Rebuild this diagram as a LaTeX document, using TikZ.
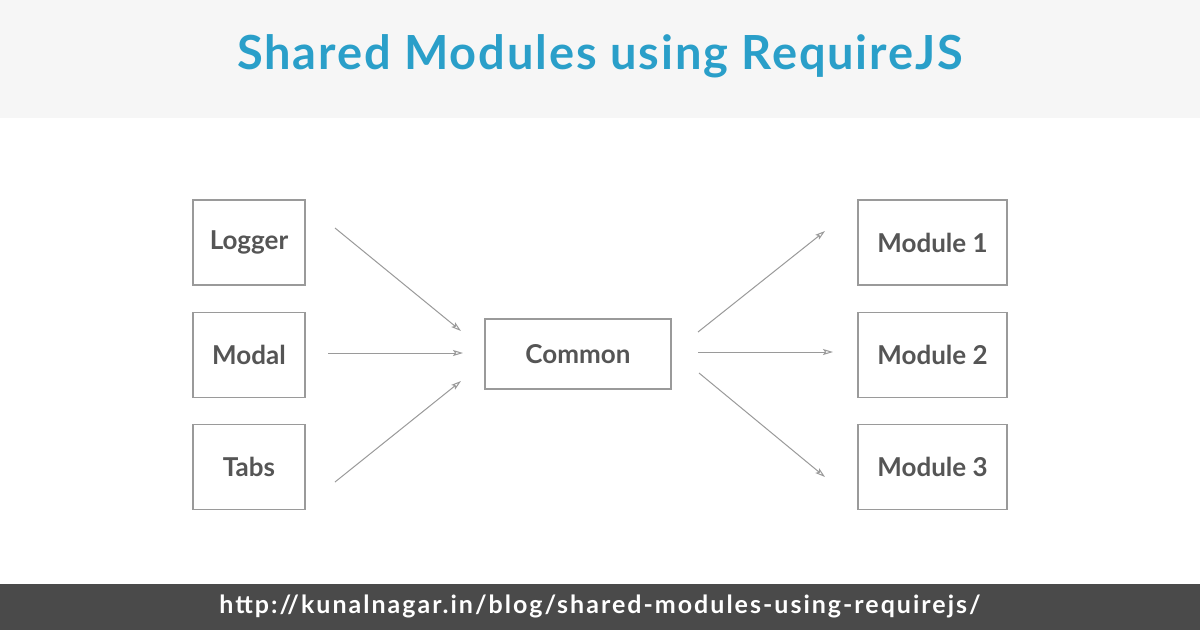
\documentclass[tikz,border=0pt]{standalone}
\usepackage{fontspec}
\setmainfont{Lato}
\newfontfamily\widelato[LetterSpace=4]{Lato}
\newfontfamily\urllato[LetterSpace=8]{Lato}
\usetikzlibrary{arrows.meta,positioning}
\definecolor{titleblue}{HTML}{2A9FC9}
\definecolor{boxtext}{HTML}{555555}
\definecolor{boxline}{HTML}{9A9A9A}
\definecolor{headbg}{HTML}{F6F6F6}
\definecolor{footbg}{HTML}{4A4A4A}
\tikzset{
    raw box/.style={rectangle, draw=boxline, line width=1.2pt, fill=white, text=boxtext, font=\fontsize{26}{30}\selectfont\bfseries, align=center, inner sep=0pt},
    side box/.style={raw box, minimum width=112pt, minimum height=85pt},
    module box/.style={raw box, minimum width=149pt, minimum height=85pt},
    common box/.style={raw box, minimum width=186pt, minimum height=70pt},
    link/.style={draw=boxline, line width=1pt, -{Stealth[open, length=10pt, width=6pt, inset=2pt]}}
}

\begin{document}
\begin{tikzpicture}[x=1pt,y=-1pt]
	% background bands
	\fill[white] (0,0) rectangle (1200,630);
	\fill[headbg] (0,0) rectangle (1200,118);
	\fill[footbg] (0,584) rectangle (1200,630);
	\node[text=titleblue, font=\widelato\fontsize{47}{54}\selectfont\bfseries] (title) at (600,56) {Shared Modules using RequireJS};
	\node[text=white, font=\urllato\fontsize{25}{30}\selectfont\bfseries] (url) at (600,606) {http://kunalnagar.in/blog/shared-modules-using-requirejs/};
	% boxes
	\node[side box] (logger) at (249,242.5) {Logger};
	\node[side box, below=26pt of logger] (modal) {Modal};
	\node[side box, below=26pt of modal] (tabs) {Tabs};
	\node[common box] (common) at (578,354) {Common};
	\node[module box] (mod1) at (932.5,242.5) {Module 1};
	\node[module box, below=26pt of mod1] (mod2) {Module 2};
	\node[module box, below=26pt of mod2] (mod3) {Module 3};
	% arrow ends
	\coordinate (logger-out) at (335,228);
	\coordinate (modal-out) at (328,353);
	\coordinate (tabs-out) at (335,482);
	\coordinate (common-in1) at (461,331);
	\coordinate (common-in2) at (463,353);
	\coordinate (common-in3) at (461,381);
	\coordinate (common-out1) at (698,332);
	\coordinate (common-out2) at (698,352);
	\coordinate (common-out3) at (699,373);
	\coordinate (mod1-in) at (825,231);
	\coordinate (mod2-in) at (833,352);
	\coordinate (mod3-in) at (825,477);
	\foreach \a/\b in {logger-out/common-in1, modal-out/common-in2, tabs-out/common-in3,
		common-out1/mod1-in, common-out2/mod2-in, common-out3/mod3-in}
		\draw[link] (\a) -- (\b);
\end{tikzpicture}
\end{document}
